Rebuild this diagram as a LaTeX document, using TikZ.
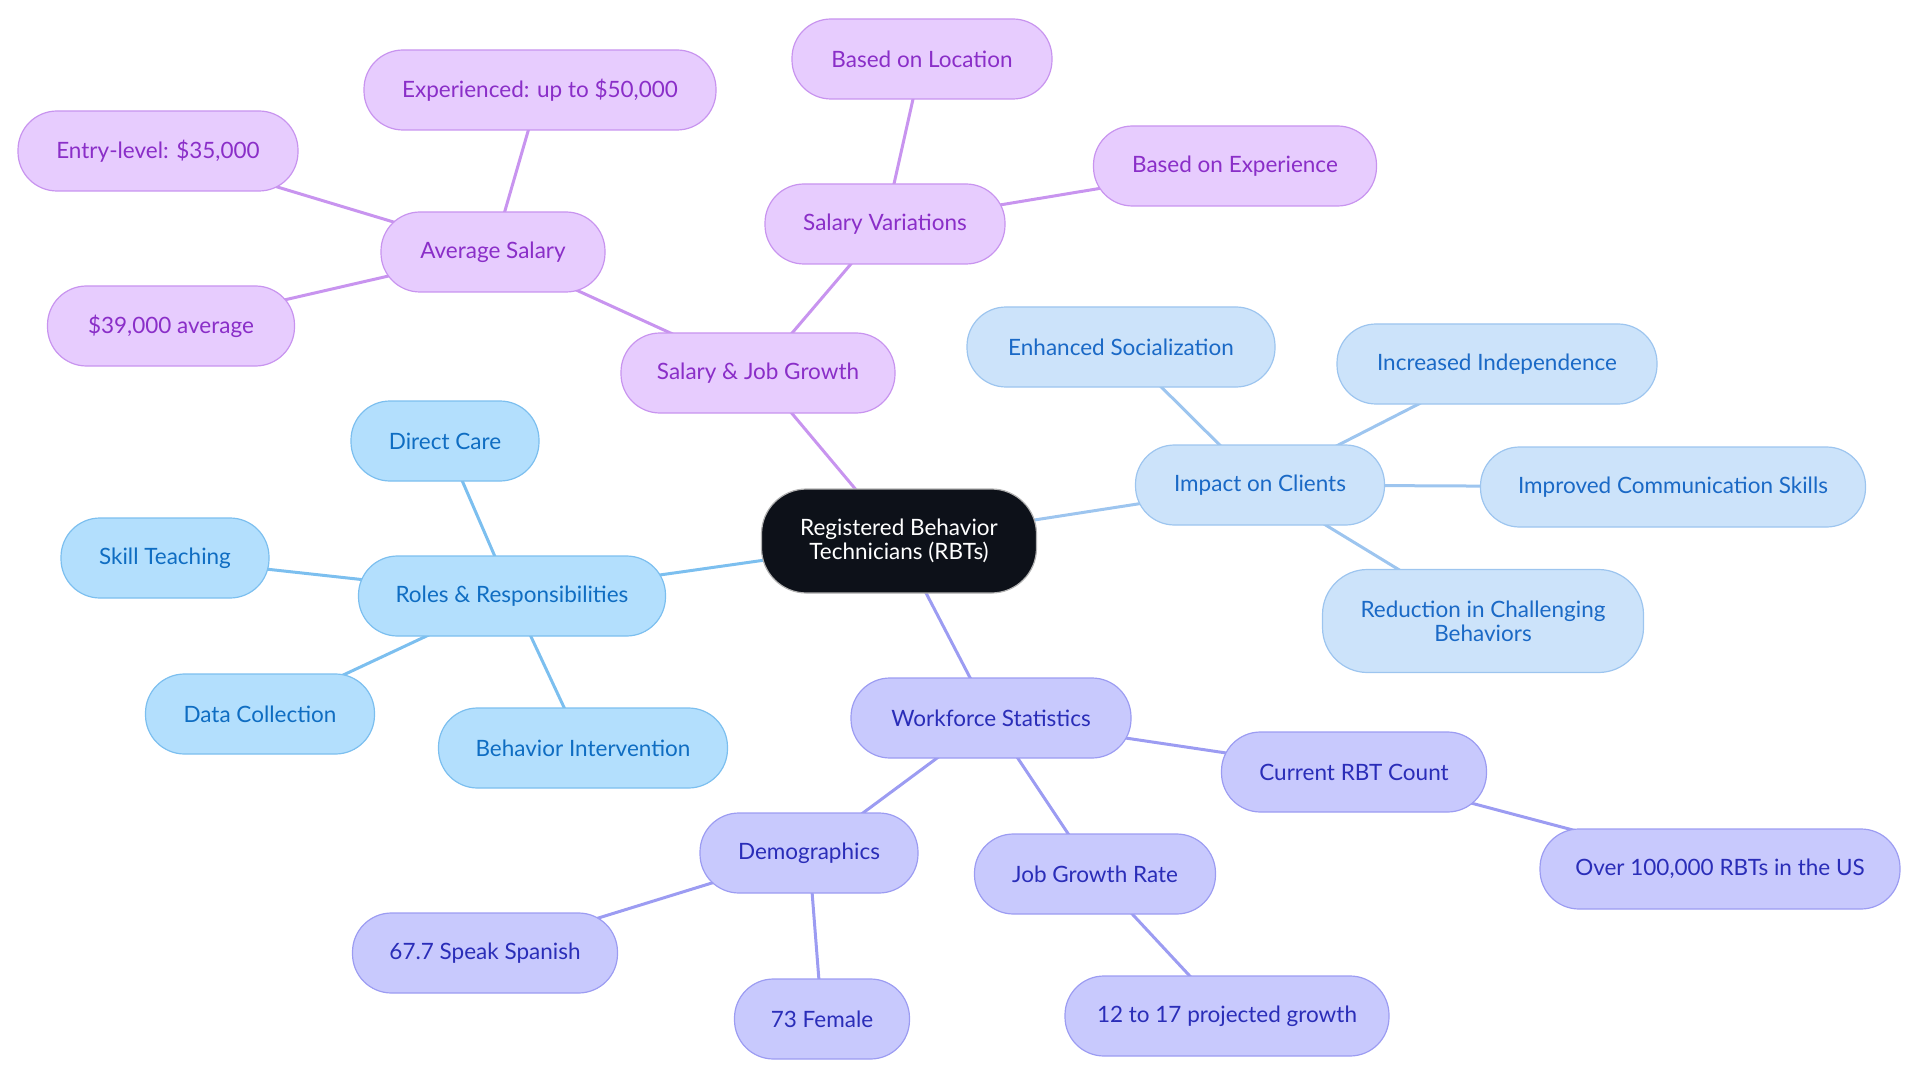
\documentclass[tikz,border=0pt]{standalone}
\usepackage{fontspec}
\setmainfont{Lato}
\definecolor{bfill}{HTML}{B3DFFD}\definecolor{bdraw}{HTML}{7CBFEF}\definecolor{btext}{HTML}{0F6DC2}
\definecolor{pfill}{HTML}{E7CCFE}\definecolor{pdraw}{HTML}{C894EF}\definecolor{ptext}{HTML}{8A2EC8}
\definecolor{ifill}{HTML}{C8C9FD}\definecolor{idraw}{HTML}{9C9CF2}\definecolor{itext}{HTML}{2A2DB8}
\definecolor{lfill}{HTML}{CCE3FA}\definecolor{ldraw}{HTML}{9DC5EF}\definecolor{ltext}{HTML}{1A69C6}
\definecolor{cfill}{HTML}{0D1119}
\pgfdeclarelayer{bg}\pgfsetlayers{bg,main}
\begin{document}
\begin{tikzpicture}[x=1pt,y=-1pt,
  box/.style={rounded corners=39pt,minimum height=80pt,line width=1.2pt,align=center,font=\fontsize{22.5}{24}\selectfont,inner sep=0pt},
  bbox/.style={box,fill=bfill,draw=bdraw,text=btext},
  pbox/.style={box,fill=pfill,draw=pdraw,text=ptext},
  ibox/.style={box,fill=ifill,draw=idraw,text=itext},
  lbox/.style={box,fill=lfill,draw=ldraw,text=ltext},
  be/.style={draw=bdraw,line width=3pt},
  pe/.style={draw=pdraw,line width=3pt},
  ie/.style={draw=idraw,line width=3pt},
  le/.style={draw=ldraw,line width=3pt}]
\useasboundingbox (0,0) rectangle (1920,1083);
% center
\node[box,fill=cfill,draw=gray!60,text=white,minimum width=275pt,minimum height=104pt,rounded corners=45pt] (c) at (899,541) {Registered Behavior\\Technicians (RBTs)};
% roles
\node[bbox,minimum width=307pt] (rr) at (512,596) {Roles \& Responsibilities};
\node[bbox,minimum width=188pt] (dc) at (445,441) {Direct Care};
\node[bbox,minimum width=208pt] (st) at (165,558) {Skill Teaching};
\node[bbox,minimum width=229pt] (dcol) at (260,714) {Data Collection};
\node[bbox,minimum width=289pt] (bi) at (583,748) {Behavior Intervention};
% salary
\node[pbox,minimum width=274pt] (sj) at (758,373) {Salary \& Job Growth};
\node[pbox,minimum width=224pt] (as) at (493,252) {Average Salary};
\node[pbox,minimum width=352pt] (ex) at (540,90) {Experienced: up to \$50,000};
\node[pbox,minimum width=280pt] (el) at (158,151) {Entry-level: \$35,000};
\node[pbox,minimum width=247pt] (avg) at (171,326) {\$39,000 average};
\node[pbox,minimum width=240pt] (sv) at (885,224) {Salary Variations};
\node[pbox,minimum width=260pt] (bl) at (922,59) {Based on Location};
\node[pbox,minimum width=283pt] (be) at (1235,166) {Based on Experience};
% impact
\node[lbox,minimum width=249pt] (ic) at (1260,485) {Impact on Clients};
\node[lbox,minimum width=308pt] (es) at (1121,347) {Enhanced Socialization};
\node[lbox,minimum width=320pt] (ii) at (1497,364) {Increased Independence};
\node[lbox,minimum width=385pt] (cs) at (1673,487) {Improved Communication Skills};
\node[lbox,minimum width=321pt,minimum height=103pt,rounded corners=45pt] (rc) at (1483,621) {Reduction in Challenging\\Behaviors};
% workforce
\node[ibox,minimum width=280pt] (ws) at (991,718) {Workforce Statistics};
\node[ibox,minimum width=265pt] (cr) at (1354,772) {Current RBT Count};
\node[ibox,minimum width=360pt] (ov) at (1720,869) {Over 100,000 RBTs in the US};
\node[ibox,minimum width=241pt] (jg) at (1095,874) {Job Growth Rate};
\node[ibox,minimum width=324pt] (pg) at (1227,1016) {12 to 17 projected growth};
\node[ibox,minimum width=218pt] (dm) at (809,853) {Demographics};
\node[ibox,minimum width=265pt] (sp) at (485,953) {67.7 Speak Spanish};
\node[ibox,minimum width=175pt] (fe) at (822,1019) {73 Female};
% edges
\begin{pgfonlayer}{bg}
\draw[be] (c.center) -- (rr.center);
\draw[be] (rr.center) -- (dc.center);
\draw[be] (rr.center) -- (st.center);
\draw[be] (rr.center) -- (dcol.center);
\draw[be] (rr.center) -- (bi.center);
\draw[pe] (c.center) -- (sj.center);
\draw[pe] (sj.center) -- (as.center);
\draw[pe] (as.center) -- (ex.center);
\draw[pe] (as.center) -- (el.center);
\draw[pe] (as.center) -- (avg.center);
\draw[pe] (sj.center) -- (sv.center);
\draw[pe] (sv.center) -- (bl.center);
\draw[pe] (sv.center) -- (be.center);
\draw[le] (c.center) -- (ic.center);
\draw[le] (ic.center) -- (es.center);
\draw[le] (ic.center) -- (ii.center);
\draw[le] (ic.center) -- (cs.center);
\draw[le] (ic.center) -- (rc.center);
\draw[ie] (c.center) -- (ws.center);
\draw[ie] (ws.center) -- (cr.center);
\draw[ie] (cr.center) -- (ov.center);
\draw[ie] (ws.center) -- (jg.center);
\draw[ie] (jg.center) -- (pg.center);
\draw[ie] (ws.center) -- (dm.center);
\draw[ie] (dm.center) -- (sp.center);
\draw[ie] (dm.center) -- (fe.center);
\end{pgfonlayer}
\end{tikzpicture}
\end{document}
